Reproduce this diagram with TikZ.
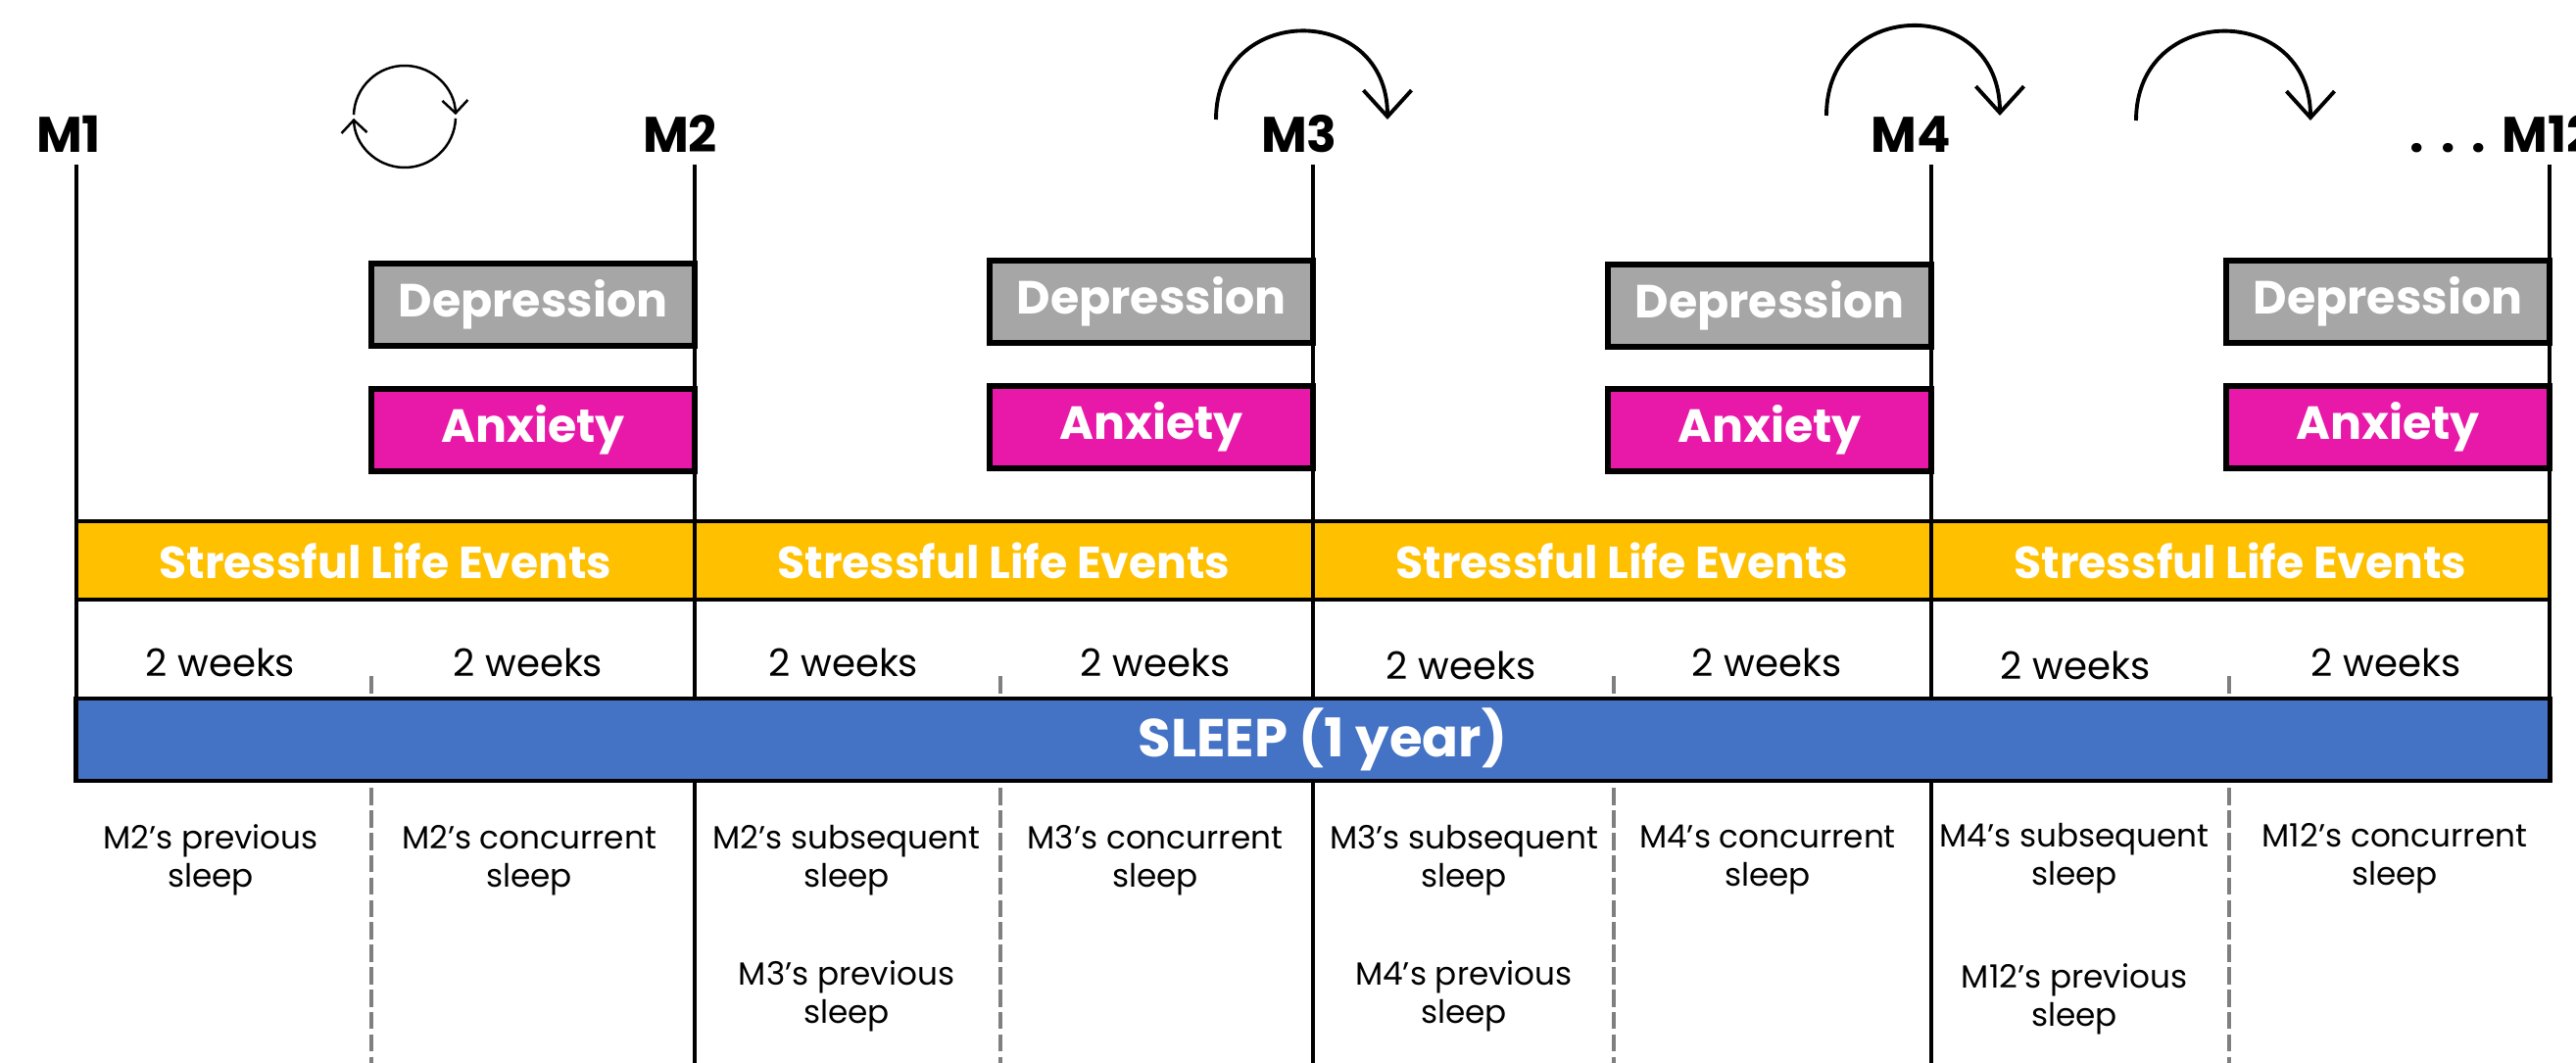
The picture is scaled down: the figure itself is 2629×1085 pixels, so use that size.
\documentclass[tikz,border=0pt]{standalone}
\usepackage{fontspec}
\setmainfont{Poppins}
\usetikzlibrary{arrows.meta}

\definecolor{sleorange}{RGB}{255,192,0}
\definecolor{sleepblue}{RGB}{68,114,196}
\definecolor{depgray}{RGB}{166,166,166}
\definecolor{anxpink}{RGB}{232,24,168}
\definecolor{tickgray}{RGB}{127,127,127}

\tikzset{
  monthlabel/.style={anchor=base, inner sep=0pt, font=\bfseries\fontsize{14.5}{17}\selectfont},
  moodbox/.style={draw=black, line width=1.6pt, anchor=east, inner sep=0pt, outer sep=0pt,
    minimum width=3.3cm, minimum height=0.84cm, text=white, font=\bfseries\fontsize{13.5}{16}\selectfont},
  slecell/.style={draw=black, line width=1.3pt, fill=sleorange, inner sep=0pt, outer sep=0pt,
    minimum width=6.31cm, minimum height=0.8cm, text=white, font=\bfseries\fontsize{13}{16}\selectfont},
  weeklabel/.style={anchor=base, inner sep=0pt, font=\fontsize{11}{13}\selectfont},
  sleeplabel/.style={align=center, inner sep=0pt, font=\fontsize{9.3}{11.1}\selectfont},
  timeline/.style={line width=1.3pt},
  halfline/.style={tickgray, line width=0.9pt, dash pattern=on 5pt off 1.5pt},
  hop/.style={line width=1.1pt, -{Straight Barb[length=0.27cm,width=0.49cm]}},
  cyclearrow/.style={line width=0.7pt, -{Straight Barb[length=0.13cm,width=0.26cm]}}
}

\begin{document}
\begin{tikzpicture}[x=0.01cm, y=-0.01cm]
  \useasboundingbox (0,0) rectangle (2629,1085);

  % ---- end points of the month lines ----------------
  \coordinate (top1) at (78,168);   \coordinate (end1) at (78,797);
  \coordinate (top2) at (709,168);  \coordinate (end2) at (709,1085);
  \coordinate (top3) at (1340,168); \coordinate (end3) at (1340,1085);
  \coordinate (top4) at (1971,168); \coordinate (end4) at (1971,1085);
  \coordinate (top5) at (2602,168); \coordinate (end5) at (2602,797);

  % ---- grey half-month lines (under the sleep bar) ---
  \coordinate (half1) at (379,690);  \coordinate (halfend1) at (379,1085);
  \coordinate (half2) at (1021,690); \coordinate (halfend2) at (1021,1085);
  \coordinate (half3) at (1647,690); \coordinate (halfend3) at (1647,1085);
  \coordinate (half4) at (2275,690); \coordinate (halfend4) at (2275,1085);
  \draw[halfline] (half1) -- (halfend1);
  \draw[halfline] (half2) -- (halfend2);
  \draw[halfline] (half3) -- (halfend3);
  \draw[halfline] (half4) -- (halfend4);

  \draw[timeline] (top1) -- (end1);
  \draw[timeline] (top2) -- (end2);
  \draw[timeline] (top3) -- (end3);
  \draw[timeline] (top4) -- (end4);
  \draw[timeline] (top5) -- (end5);

  % ---- month labels ---------------------------------
  \node[monthlabel] (m1) at (70,156) {M1};
  \node[monthlabel] (m2) at (694,156) {M2};
  \node[monthlabel] (m3) at (1326,156) {M3};
  \node[monthlabel] (m4) at (1950,156) {M4};
  \node[monthlabel, anchor=base west] (m12) at (2459,156) {.\,\,.\,\,.\,\,M12};

  % ---- arrows between months ------------------------
  \coordinate (cyc) at (413,119);
  \draw[cyclearrow] (cyc) ++(182:52) arc[start angle=182, end angle=358, radius=52];
  \draw[cyclearrow] (cyc) ++(2:52) arc[start angle=2, end angle=178, radius=52];

  \coordinate (hopa3) at (1241,122); \coordinate (hopb3) at (1416,122);
  \coordinate (hopa4) at (1864,118); \coordinate (hopb4) at (2041,118);
  \coordinate (hopa5) at (2180,123); \coordinate (hopb5) at (2358,123);
  \draw[hop] (hopa3) .. controls +(0,-120) and +(0,-120) .. (hopb3);
  \draw[hop] (hopa4) .. controls +(0,-122) and +(0,-122) .. (hopb4);
  \draw[hop] (hopa5) .. controls +(0,-121) and +(0,-121) .. (hopb5);

  % ---- depression and anxiety -----------------------
  \node[moodbox, fill=depgray] (dep2) at (top2 |- 0,311) {Depression};
  \node[moodbox, fill=anxpink] (anx2) at (top2 |- 0,439) {Anxiety};
  \node[moodbox, fill=depgray] (dep3) at (top3 |- 0,308) {Depression};
  \node[moodbox, fill=anxpink] (anx3) at (top3 |- 0,436) {Anxiety};
  \node[moodbox, fill=depgray] (dep4) at (top4 |- 0,312) {Depression};
  \node[moodbox, fill=anxpink] (anx4) at (top4 |- 0,439) {Anxiety};
  \node[moodbox, fill=depgray] (dep12) at (top5 |- 0,308) {Depression};
  \node[moodbox, fill=anxpink] (anx12) at (top5 |- 0,436) {Anxiety};

  % ---- stressful life events ------------------------
  \node[slecell] (sle1) at (393.5,572) {Stressful Life Events};
  \node[slecell] (sle2) at (1024.5,572) {Stressful Life Events};
  \node[slecell] (sle3) at (1655.5,572) {Stressful Life Events};
  \node[slecell] (sle4) at (2286.5,572) {Stressful Life Events};

  % ---- two-week halves ------------------------------
  \node[weeklabel] (wk1) at (225,690) {2 weeks};
  \node[weeklabel] (wk2) at (539,690) {2 weeks};
  \node[weeklabel] (wk3) at (861,690) {2 weeks};
  \node[weeklabel] (wk4) at (1179,690) {2 weeks};
  \node[weeklabel] (wk5) at (1491,693) {2 weeks};
  \node[weeklabel] (wk6) at (1803,690) {2 weeks};
  \node[weeklabel] (wk7) at (2118,693) {2 weeks};
  \node[weeklabel] (wk8) at (2435,690) {2 weeks};

  % ---- sleep bar ------------------------------------
  \node[draw=black, line width=1.3pt, fill=sleepblue, inner sep=0pt, outer sep=0pt,
        minimum width=25.24cm, minimum height=0.84cm, text=white,
        font=\bfseries\fontsize{15.5}{18}\selectfont] (sleep) at (1340,755) {\hspace{0.2cm}SLEEP (1 year)};

  % ---- which sleep belongs to which month -----------
  \node[sleeplabel] (s1) at (215,878) {M2’s previous\\sleep};
  \node[sleeplabel] (s2) at (540,878) {M2’s concurrent\\sleep};
  \node[sleeplabel] (s3) at (864,878) {M2’s subsequent\\sleep};
  \node[sleeplabel] (s4) at (1179,878) {M3’s concurrent\\sleep};
  \node[sleeplabel] (s5) at (1494,878) {M3’s subsequent\\sleep};
  \node[sleeplabel] (s6) at (1804,878) {M4’s concurrent\\sleep};
  \node[sleeplabel] (s7) at (2117,876) {M4’s subsequent\\sleep};
  \node[sleeplabel] (s8) at (2444,876) {M12’s concurrent\\sleep};
  \node[sleeplabel] (p3) at (864,1017) {M3’s previous\\sleep};
  \node[sleeplabel] (p5) at (1494,1017) {M4’s previous\\sleep};
  \node[sleeplabel] (p7) at (2117,1020) {M12’s previous\\sleep};
\end{tikzpicture}
\end{document}
